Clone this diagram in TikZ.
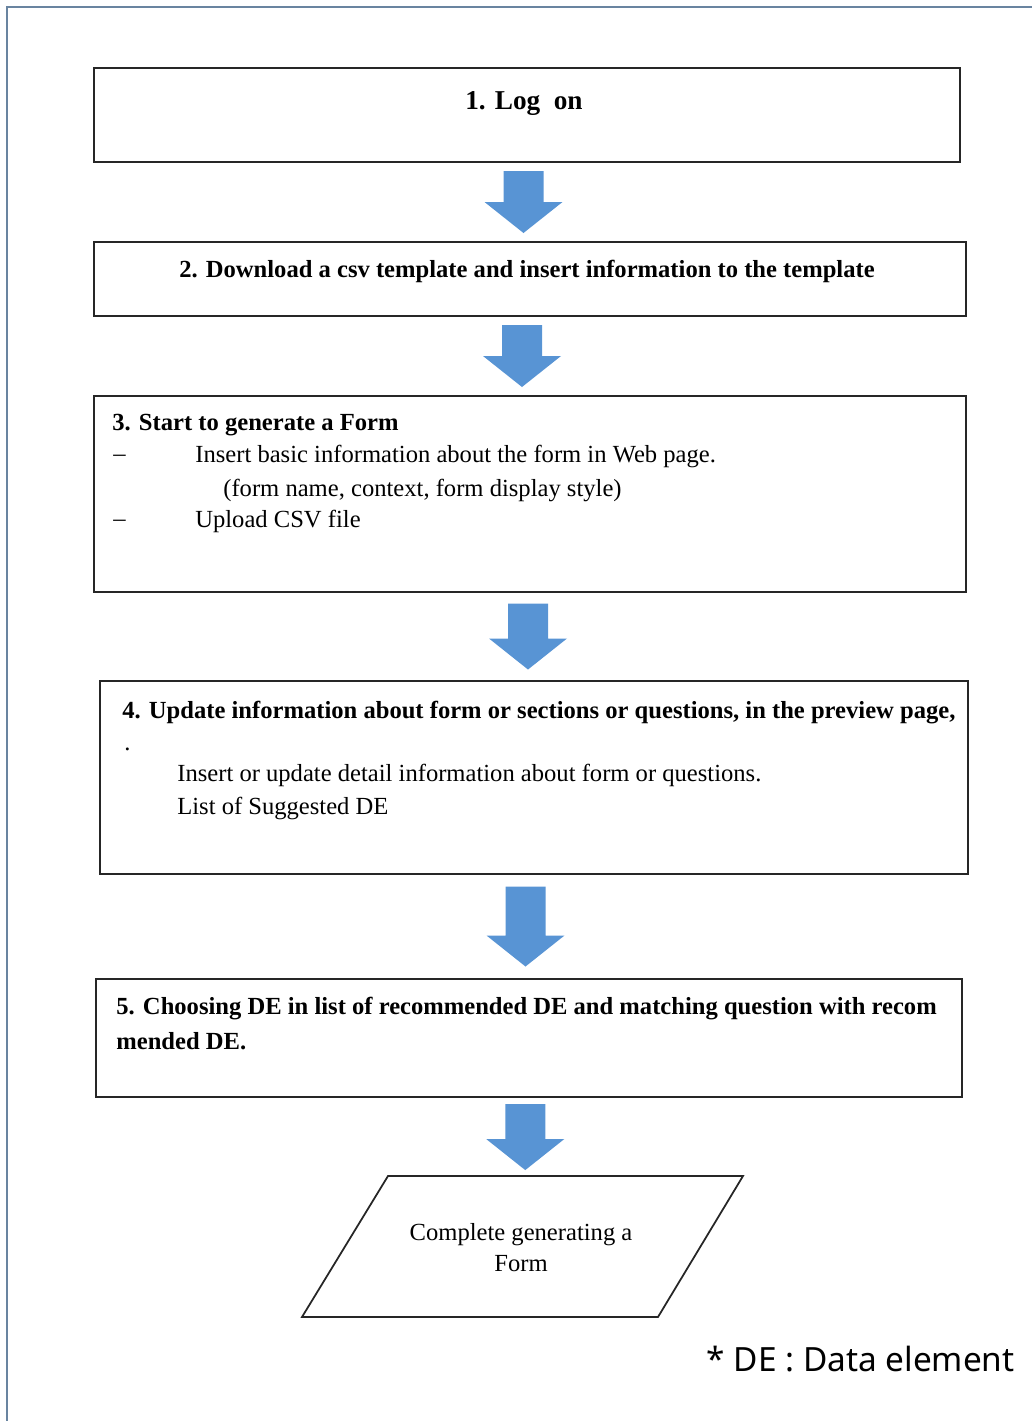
\documentclass[tikz,border=0pt]{standalone}
\usepackage{fontspec}
\setmainfont{Liberation Serif}
\newfontfamily\notefont{Noto Sans}
\usetikzlibrary{calc,fit}
\definecolor{flowblue}{RGB}{88,148,212}
\definecolor{framegray}{RGB}{105,132,160}
\tikzset{
  stepbox/.style={draw=black!85, line width=1.3pt, inner sep=0pt},
  steptext/.style={inner sep=0pt, anchor=mid west, font=\fontsize{14}{16}\selectfont},
  stephead/.style={steptext, font=\fontsize{14}{16}\selectfont\bfseries},
  pics/downarrow/.style={code={
    \fill[flowblue] (-20,-#1) -- (20,-#1) -- (20,#1-31) -- (39,#1-31) -- (0,#1)
      -- (-39,#1-31) -- (-20,#1-31) -- cycle;}}
}
\begin{document}
\begin{tikzpicture}[x=0.02cm, y=-0.02cm]
	\useasboundingbox (0,0) rectangle (1032,1421);
	\draw[framegray, line width=1.4pt] (7,1421) -- (7,7) -- (1032,7);
	% the five steps
	\node[stepbox, fit={(94,68) (960,162)}] (logon) {};
	\node[stepbox, fit={(94,242) (966,316)}] (template) {};
	\node[stepbox, fit={(94,396) (966,592)}] (startform) {};
	\node[stepbox, fit={(100,681) (968,874)}] (update) {};
	\node[stepbox, fit={(96,979) (962,1097)}] (choose) {};
	\draw[black!85, line width=1pt] (388,1176) coordinate (donetl) -- (743,1176) coordinate (donetr)
		-- (658,1317) -- (302,1317) -- cycle;
	\coordinate (donetop) at ($(donetl)!0.5!(donetr)$);
	% texts
	\node[stephead, anchor=mid, font=\fontsize{15.5}{18}\selectfont\bfseries] (logtext) at (524,105) {1. Log\ \ on};
	\node[stephead, anchor=mid] (templatetext) at (527,273) {2. Download a csv template and insert information to the template};
	\node[stephead] (starthead) at (112,426) {3. Start to generate a Form};
	\node[steptext] (dasha) at (113,457) {--};
	\node[steptext] (basicinfo) at (195,458) {Insert basic information about the form in Web page.};
	\node[steptext] (basicsub) at (223,492) {(form name, context, form display style)};
	\node[steptext] (dashb) at (113,522) {--};
	\node[steptext] (upload) at (195,523) {Upload CSV file};
	\node[stephead] (updatehead) at (122,714) {4. Update information about form or sections or questions, in the preview page,};
	\node[steptext] (updatedot) at (124,746) {.};
	\node[steptext] (detailinfo) at (177,777) {Insert or update detail information about form or questions.};
	\node[steptext] (suggested) at (177,810) {List of Suggested DE};
	\node[stephead] (choosehead) at (116,1010) {5. Choosing DE in list of recommended DE and matching question with recom};
	\node[stephead] (choosetail) at (116,1045) {mended DE.};
	\node[steptext, anchor=mid] (donea) at (521,1236) {Complete generating a};
	\node[steptext, anchor=mid] (doneb) at (521,1267) {Form};
	\node[inner sep=0pt, anchor=mid east, font=\notefont\fontsize{19}{22}\selectfont] (denote) at (1015,1367) {* DE : Data element};
	% arrows between steps
	\pic at ($(logon.south)!0.5!(template.north)+(-5,0)$) {downarrow=31};
	\pic at ($(template.south)!0.5!(startform.north)+(-8,0)$) {downarrow=31};
	\pic at ($(startform.south)!0.5!(update.north)+(-4,0)$) {downarrow=33};
	\pic at ($(update.south)!0.5!(choose.north)+(-6,0)$) {downarrow=40};
	\pic at ($(choose.south)!0.5!(donetop)+(-22,0)$) {downarrow=33};
\end{tikzpicture}
\end{document}
